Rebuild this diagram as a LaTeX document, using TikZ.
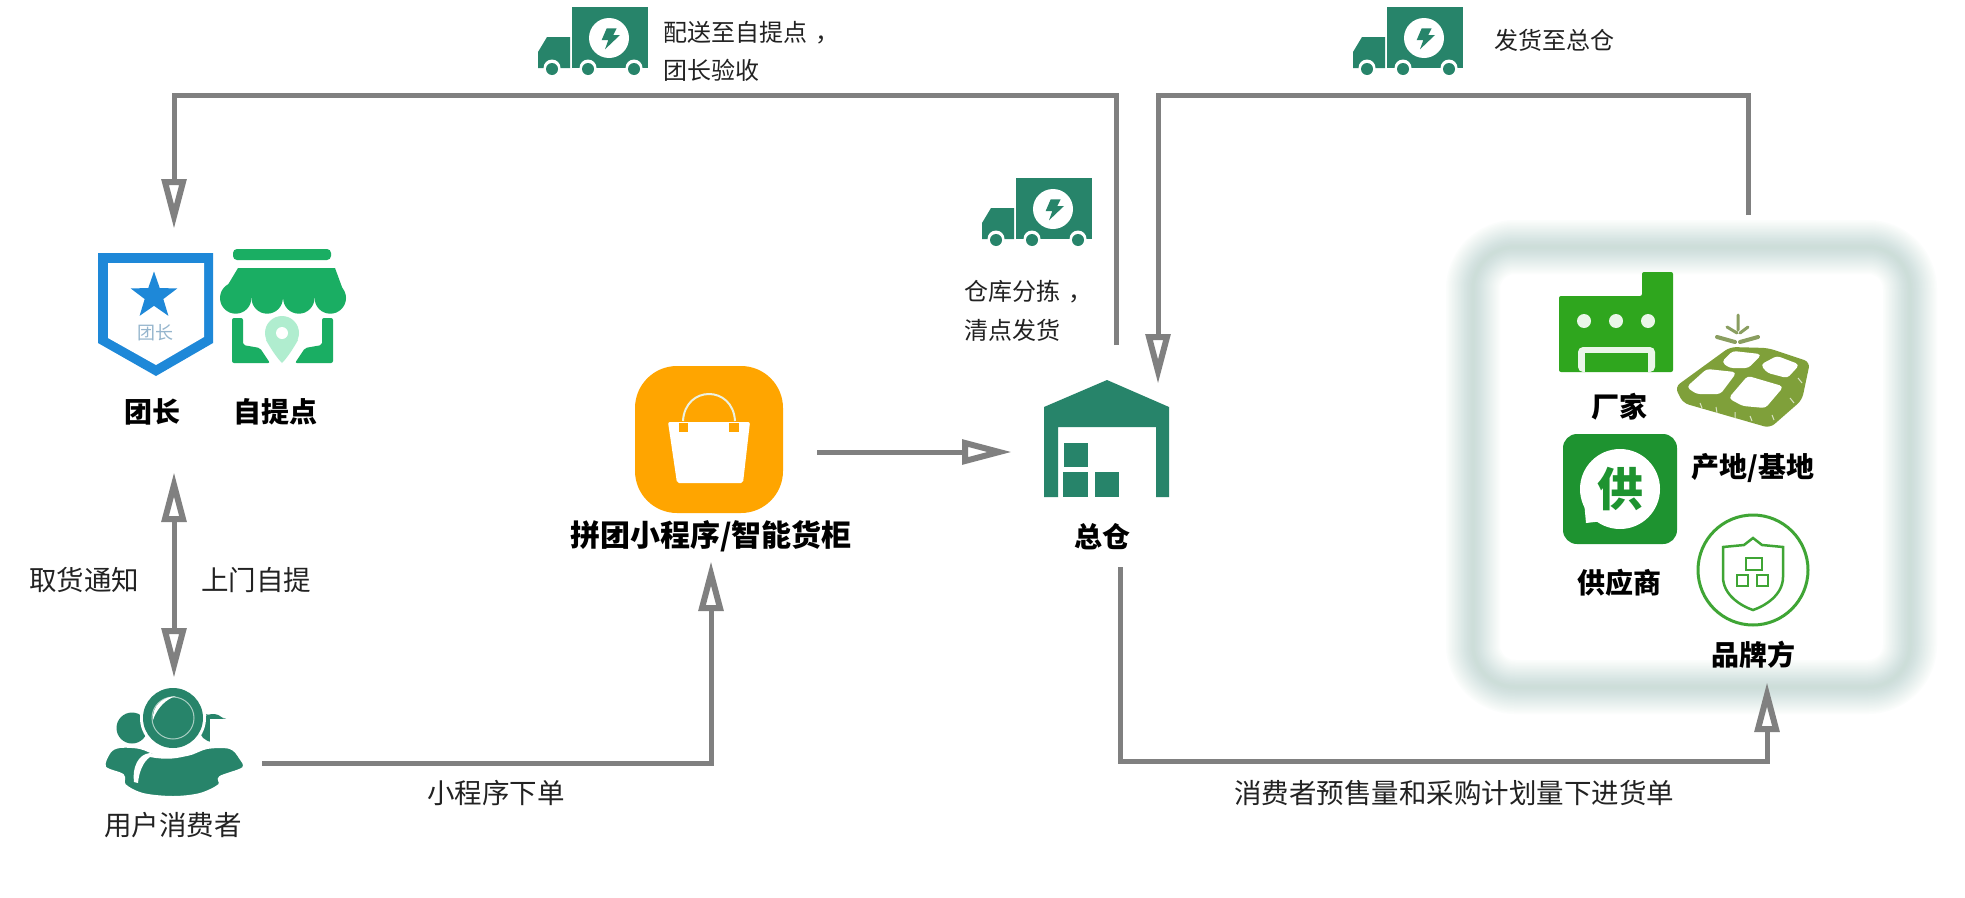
\documentclass[tikz,border=0pt]{standalone}
\usepackage{fontspec}
\setmainfont{Noto Sans CJK SC}
\usetikzlibrary{arrows.meta,shapes.geometric}
\definecolor{teal}{HTML}{27846A}
\definecolor{line}{HTML}{808080}
\definecolor{ink}{HTML}{222222}
\definecolor{shieldblue}{HTML}{1E88D8}
\definecolor{storegreen}{HTML}{1AAE63}
\definecolor{pinlight}{HTML}{B0EDCF}
\definecolor{factory}{HTML}{2FA61E}
\definecolor{olive}{HTML}{7FA03A}
\definecolor{sprout}{HTML}{8A9E60}
\definecolor{supply}{HTML}{1E9330}
\definecolor{brand}{HTML}{3FA535}
\definecolor{bagorange}{HTML}{FFA500}
\definecolor{glowc}{HTML}{8FBDB2}
\tikzset{
  x=1pt,y=-1pt,
  txt/.style={inner sep=0pt,text=ink,font=\fontsize{24}{24}\selectfont},
  midtxt/.style={inner sep=0pt,text=ink,font=\fontsize{27.5}{28}\selectfont},
  boldtxt/.style={inner sep=0pt,text=black,font=\fontsize{28}{28}\selectfont\bfseries},
  anchorbox/.style={inner sep=0pt,outer sep=0pt},
  head/.tip={Triangle[open,length=50pt,width=24pt,line width=6pt]},
  conn/.style={draw=line,line width=5pt},
  truck/.pic={
    \fill[teal] (0,0) rectangle (76,61);
    \fill[teal] (-34,61) -- (-34,45) -- (-25,30) -- (-2,30) -- (-2,61) -- cycle;
    \fill[white] (37,31) circle[radius=20pt];
    \fill[teal] (34.7,21.3) -- (44.7,21.3) -- (41.3,28) -- (48,28) -- (33,42.3) -- (36.3,33) -- (29.7,33) -- cycle;
    \foreach \wx in {-20,16,62}{
      \fill[white] (\wx,61) circle[radius=8.5pt];
      \fill[teal] (\wx,62) circle[radius=6pt];
    }
  },
}
\begin{document}
\begin{tikzpicture}
\useasboundingbox (0,0) rectangle (1965,897);
\fill[white] (0,0) rectangle (1965,897);

% glow panel
\foreach \w in {3,6,...,54}{
  \draw[glowc,line width=\w pt,draw opacity=.028,rounded corners=42pt] (1473,247) rectangle (1910,687);
}

% anchor nodes for connectors
\node[anchorbox,minimum width=176pt,minimum height=243pt] (leader) at (174,350.5) {};
\node[anchorbox,minimum width=176pt,minimum height=170pt] (consumer) at (174,763) {};
\node[anchorbox,minimum width=212pt,minimum height=218pt] (bag) at (711,452) {};
\node[anchorbox,minimum width=216pt,minimum height=230pt] (warehouse) at (1120,452) {};
\coordinate (whout) at (1116,345);
\coordinate (whin) at (1158,384);
\coordinate (topL) at (174,95);
\coordinate (topR) at (1158,95);
\coordinate (supout) at (1748,215);
\coordinate (supin) at (1767,682);
\coordinate (botR) at (1767,761);
\coordinate (botL) at (711,763);

% connectors
\draw[conn,-{head}] (whout) |- (topL) -- (leader.north);
\draw[conn,-{head}] (supout) |- (topR) -- (whin);
\draw[conn,-{head}] (bag.east) -- (warehouse.west);
\draw[conn,{head}-{head}] (leader.south) -- (consumer.north);
\draw[conn,-{head}] (consumer.east) -- (botL) -- (bag.south);
\draw[conn,-{head}] (warehouse.south) |- (botR) -- (supin);

% trucks
\pic at (572,7) {truck};
\pic at (1387,7) {truck};
\pic at (1016,178) {truck};

% shield
\fill[shieldblue] (98,253) -- (213,253) -- (213,343) -- (156,376) -- (98,343) -- cycle;
\fill[white] (108,263) -- (204,263) -- (204,337) -- (156,365) -- (108,338) -- cycle;
\node[star,star points=5,star point ratio=2.5,fill=shieldblue,inner sep=0pt,minimum size=49pt] (leaderstar) at (154,296) {};
\node[inner sep=0pt,text=shieldblue!50!gray!60!white,font=\fontsize{18}{18}\selectfont] (badge) at (155,333) {团长};

% store
\fill[storegreen,rounded corners=4pt] (233,249) rectangle (331,260);
\fill[storegreen] (238,268) -- (335,268) -- (346,298) -- (220,298) -- cycle;
\foreach \cx in {235.7,267.2,298.8,330.3}{\fill[storegreen] (\cx,298) circle[radius=15.7pt];}
\fill[storegreen,rounded corners=2pt] (232,318) -- (243,318) -- (243,345) -- (260,348) -- (270,363) -- (232,363) -- cycle;
\fill[storegreen,rounded corners=2pt] (333,318) -- (322,318) -- (322,345) -- (305,348) -- (295,363) -- (333,363) -- cycle;
\fill[pinlight] (282,333) circle[radius=17pt];
\fill[pinlight] (266,340) .. controls (271,349) and (277,358) .. (282,363) .. controls (287,358) and (293,349) .. (298,340) -- cycle;
\fill[white] (282,333) circle[radius=6pt];

% consumer
\fill[teal] (132,728) circle[radius=15.5pt];
\fill[teal] (213,728) circle[radius=14pt];
\fill[white] (210,719) rectangle (228,745);
\fill[teal] (205,714) -- (226,718.5) -- (210,718.5) -- cycle;
\path[fill=teal,draw=white,line width=2pt] plot[smooth cycle,tension=.55] coordinates {(105,767) (110,752) (120,747) (140,748) (160,755) (187,755) (207,748) (230,748) (240,758) (243,768) (220,777) (219,785) (200,794) (173,797) (143,794) (125,785) (123,775)};
\fill[white] (173,718) circle[radius=33pt];
\fill[teal] (173,718) circle[radius=30pt];
\draw[white!60!teal,line width=1pt] (173,718) circle[radius=21pt];
\fill[white] (153,720) .. controls (152,705) and (163,697) .. (176,696) .. controls (166,699) and (157,708) .. (153,720) -- cycle;
\fill[white] (134,782) .. controls (132,768) and (138,754) .. (150,753) .. controls (165,757) and (180,757) .. (191,754) .. controls (180,759) and (165,760) .. (150,757) .. controls (143,762) and (139,772) .. (138,783) -- cycle;

% bag
\fill[bagorange,rounded corners=42pt] (635,366) rectangle (783,513);
\draw[white!85!olive,line width=2pt] (683,421) .. controls (685,385) and (733,385) .. (735,421);
\fill[white,rounded corners=2pt] (668,422) -- (750,422) -- (743,483) -- (677,483) -- cycle;
\fill[bagorange] (679,423) rectangle (688,432);
\fill[bagorange] (729,423) rectangle (739,432);

% warehouse
\fill[teal] (1044,497) -- (1044,407) -- (1107,380) -- (1169,407) -- (1169,497) -- (1156,497) -- (1156,427) -- (1058,427) -- (1058,497) -- cycle;
\fill[teal] (1064,443) rectangle (1088,467);
\fill[teal] (1063,472) rectangle (1088,497);
\fill[teal] (1095,472) rectangle (1119,497);

% factory
\fill[factory,rounded corners=2pt] (1559,372) -- (1559,296) -- (1642,296) -- (1642,272) -- (1673,272) -- (1673,372) -- cycle;
\foreach \dx in {1584,1616,1648}{\fill[white!90!factory] (\dx,321) circle[radius=7pt];}
\fill[white!90!factory,rounded corners=5pt] (1578,372) -- (1578,347) -- (1655,347) -- (1655,372) -- cycle;
\fill[factory] (1585,372) -- (1585,353) -- (1648,353) -- (1648,372) -- cycle;

% field
\draw[sprout,line width=3pt,line cap=round] (1738,315) -- (1738,330) (1727,327) -- (1737,333) (1748,327) -- (1740,333);
\draw[sprout,line width=4pt,line cap=round] (1717,337) -- (1735,342) (1758,337) -- (1740,342);
\fill[olive,rounded corners=6pt] (1675,387) -- (1730,347) -- (1768,348) -- (1810,362) -- (1802,400) -- (1770,428) -- (1683,403) -- cycle;
\foreach \p in {{(1723,362) -- (1733,352) -- (1760,355) -- (1748,367) -- (1730,367)},
                {(1762,365) -- (1777,357) -- (1798,365) -- (1787,377) -- (1768,372)},
                {(1688,387) -- (1707,370) -- (1735,373) -- (1720,393) -- (1697,393)},
                {(1730,398) -- (1748,377) -- (1782,387) -- (1765,407) -- (1743,405)}}{
  \path[fill=white,draw=white,line width=2pt,rounded corners=3pt] \p -- cycle;
}
\draw[white!70!olive,line width=1pt] (1700,403) -- (1702,408) (1716,407) -- (1717,413) (1735,412) -- (1735,418) (1750,416) -- (1752,421) (1772,415) -- (1774,420) (1790,398) -- (1794,403) (1798,378) -- (1802,383);

% supplier icon
\fill[supply,rounded corners=14pt] (1563,434) rectangle (1677,544);
\fill[white] (1620,489) circle[radius=40pt];
\fill[white] (1586,523) -- (1583,490) -- (1612,520) -- cycle;
\node[inner sep=0pt,text=supply,font=\fontsize{46}{46}\selectfont\bfseries] (supglyph) at (1620,489) {供};

% brand icon
\draw[brand,line width=3pt] (1753,570) circle[radius=55pt];
\draw[brand,line width=2.5pt] (1753,538) -- (1762,545) -- (1783,547) -- (1783,577) .. controls (1783,595) and (1765,606) .. (1753,610) .. controls (1741,606) and (1723,595) .. (1723,577) -- (1723,547) -- (1744,545) -- cycle;
\draw[brand,line width=2pt] (1746,558) rectangle (1762,570);
\draw[brand,line width=2pt] (1737,575) rectangle (1748,586);
\draw[brand,line width=2pt] (1757,575) rectangle (1768,586);

% text
\node[boldtxt] (t1) at (152,412) {团长};
\node[boldtxt] (t2) at (275,412) {自提点};
\node[midtxt] (t3) at (173,825) {用户消费者};
\node[txt,anchor=west] (t4) at (663,33) {配送至自提点\hspace{8pt}，};
\node[txt,anchor=west] (t5) at (663,70) {团长验收};
\node[txt,anchor=west] (t6) at (1494,40) {发货至总仓};
\node[txt,anchor=west] (t7) at (964,292) {仓库分拣\hspace{8pt}，};
\node[txt,anchor=west] (t8) at (964,330) {清点发货};
\node[boldtxt,font=\fontsize{30}{30}\selectfont\bfseries] (t9) at (711,536) {拼团小程序/智能货柜};
\node[boldtxt] (t10) at (1102,537) {总仓};
\node[midtxt] (t11) at (84,580) {取货通知};
\node[midtxt] (t12) at (256,580) {上门自提};
\node[midtxt] (t13) at (496,793) {小程序下单};
\node[midtxt] (t14) at (1454,793) {消费者预售量和采购计划量下进货单};
\node[boldtxt] (t15) at (1619,407) {厂家};
\node[boldtxt] (t16) at (1753,468) {产地/基地};
\node[boldtxt] (t17) at (1619,583) {供应商};
\node[boldtxt] (t18) at (1753,655) {品牌方};
\end{tikzpicture}
\end{document}
